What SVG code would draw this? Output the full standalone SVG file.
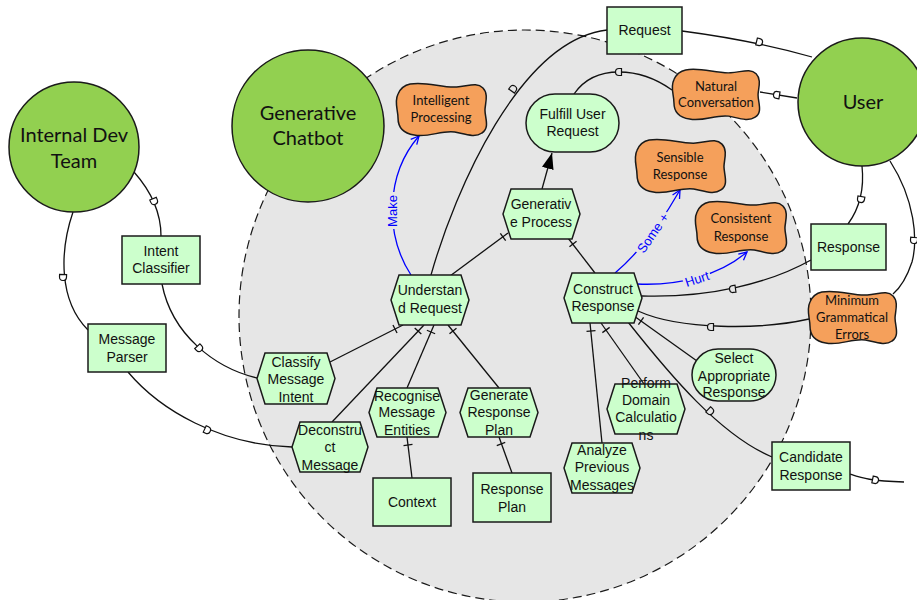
<svg xmlns="http://www.w3.org/2000/svg" xmlns:xlink="http://www.w3.org/1999/xlink" width="917" height="600" viewBox="0 0 917 600">
<style>
.actor{fill:#92D050;stroke:#1a1a1a;stroke-width:1.5}
.res{fill:#CCFFCC;stroke:#1a1a1a;stroke-width:1.5}
.task{fill:#CCFFCC;stroke:#1a1a1a;stroke-width:1.5}
.goal{fill:#CCFFCC;stroke:#1a1a1a;stroke-width:1.5}
.soft{fill:#F5A05B;stroke:#1a1a1a;stroke-width:1.5}
.bound{fill:#E6E6E6;stroke:#1a1a1a;stroke-width:1.2;stroke-dasharray:9 5}
.ln{fill:none;stroke:#111;stroke-width:1.3}
.bl{fill:none;stroke:#0000FF;stroke-width:1.3}
.t{font-family:"Liberation Sans",Arial,sans-serif;font-size:14px;fill:#111;text-anchor:middle}
.big{font-family:Lato,"Open Sans",sans-serif;font-size:20px;fill:#111;text-anchor:middle}
.st{font-family:Lato,"Open Sans",sans-serif;font-size:13px;fill:#111;text-anchor:middle}
.lbl{font-family:"Liberation Sans",Arial,sans-serif;font-size:13px;fill:#0000FF;text-anchor:middle}
.dm{fill:#E6E6E6;stroke:#111;stroke-width:1.2}
.dw{fill:#FFFFFF;stroke:#111;stroke-width:1.2}
.tk{stroke:#111;stroke-width:1.3}
</style>
<defs>
<path id="sg" d="M 14,2 C 30,-1 45,6 60,5 C 72,4 80,0 86,6 C 92,12 88,22 88,28 C 88,36 93,46 85,51 C 78,56 68,52 58,50 C 45,48 32,56 18,53 C 5,51 2,44 2,36 C 2,28 -2,20 2,12 C 5,5 9,3 14,2 Z"/>
<path id="dg" d="M -2.5,-3.5 L 0,-3.5 A 3.5,3.5 0 0 1 0,3.5 L -2.5,3.5 Z"/>
<line id="tick" x1="0" y1="-4.5" x2="0" y2="4.5"/>
<marker id="tri" viewBox="0 0 16 12" refX="16" refY="6" markerWidth="16" markerHeight="12" markerUnits="userSpaceOnUse" orient="auto">
<path d="M 0,0 L 16,6 L 0,12 Z" fill="#000"/>
</marker>
<marker id="opn" viewBox="0 0 10 10" refX="9" refY="5" markerWidth="10" markerHeight="10" markerUnits="userSpaceOnUse" orient="auto">
<path d="M 1,1 L 9,5 L 1,9" fill="none" stroke="#0000FF" stroke-width="1.3"/>
</marker>
</defs>

<rect width="917" height="600" fill="#FFFFFF"/>

<g id="boundary">
<circle class="bound" cx="525" cy="316" r="286"/>
</g>

<g id="connectors">
<path class="ln" d="M 134,172 C 150,190 161,210 161,236"/>
<path class="ln" d="M 73,212 C 60,250 58,300 88,330"/>
<path class="ln" d="M 162,284 C 172,335 215,368 257,378"/>
<path class="ln" d="M 128,372 C 160,410 220,445 292,447"/>
<path class="ln" d="M 431,275 C 455,190 520,40 607,30"/>
<path class="ln" d="M 682,31 C 720,36 770,45 812,57"/>
<path class="ln" d="M 797,98 L 760,92"/>
<path class="ln" d="M 574,94 C 585,78 600,72 619,72 C 640,72 658,80 672,90"/>
<path class="ln" d="M 542,189 L 552,153" marker-end="url(#tri)"/>
<path class="ln" d="M 862,166 C 864,185 862,205 848,224"/>
<path class="ln" d="M 890,161 C 915,200 918,240 912,262 C 906,280 900,288 893,294"/>
<path class="ln" d="M 811,260 C 770,283 710,298 642,296"/>
<path class="ln" d="M 809,319 C 760,330 680,330 638,311"/>
<path class="ln" d="M 628,322 C 670,375 720,435 772,457"/>
<path class="ln" d="M 850,474 C 862,478 870,481 904,482"/>
<line class="ln" x1="450" y1="276" x2="508" y2="233"/>
<line class="ln" x1="595" y1="273" x2="568" y2="238"/>
<line class="ln" x1="403" y1="325" x2="330" y2="362"/>
<line class="ln" x1="424" y1="325" x2="332" y2="422"/>
<line class="ln" x1="434" y1="325" x2="407" y2="388"/>
<line class="ln" x1="448" y1="325" x2="499" y2="388"/>
<line class="ln" x1="407" y1="437" x2="412" y2="478"/>
<line class="ln" x1="499" y1="437" x2="512" y2="473"/>
<line class="ln" x1="634" y1="316" x2="697" y2="361"/>
<line class="ln" x1="601" y1="323" x2="644" y2="384"/>
<line class="ln" x1="590" y1="323" x2="602" y2="443"/>
<path class="bl" d="M 411,275 C 385,235 385,175 419,136" marker-end="url(#opn)"/>
<path class="bl" d="M 615,273 C 640,252 660,225 680,190" marker-end="url(#opn)"/>
<path class="bl" d="M 637,284 C 680,286 720,275 747,252" marker-end="url(#opn)"/>
<rect x="385" y="192" width="14" height="37" fill="#E6E6E6"/>
<text class="lbl" transform="translate(397,211) rotate(-90)">Make</text>
<g transform="translate(653,233) rotate(-55)"><rect x="-25" y="-8" width="50" height="14" fill="#E6E6E6"/><text class="lbl" x="0" y="4.5">Some +</text></g>
<g transform="translate(697,279) rotate(-18)"><rect x="-14" y="-8" width="28" height="14" fill="#E6E6E6"/><text class="lbl" x="0" y="4.5">Hurt</text></g>
<use xlink:href="#dg" class="dw" transform="translate(154,201) rotate(67)"/>
<use xlink:href="#dg" class="dw" transform="translate(199,348) rotate(48)"/>
<use xlink:href="#dg" class="dw" transform="translate(63,277) rotate(92)"/>
<use xlink:href="#dg" class="dw" transform="translate(207,430) rotate(25)"/>
<use xlink:href="#dg" class="dm" transform="translate(513,89) rotate(-55)"/>
<use xlink:href="#dg" class="dw" transform="translate(759,42) rotate(14)"/>
<use xlink:href="#dg" class="dw" transform="translate(777,95) rotate(189)"/>
<use xlink:href="#dg" class="dm" transform="translate(619,72) rotate(180)"/>
<use xlink:href="#dg" class="dw" transform="translate(861,199) rotate(100)"/>
<use xlink:href="#dg" class="dw" transform="translate(914,240) rotate(95)"/>
<use xlink:href="#dg" class="dm" transform="translate(733,289) rotate(172)"/>
<use xlink:href="#dg" class="dm" transform="translate(711,327) rotate(180)"/>
<use xlink:href="#dg" class="dm" transform="translate(710,411) rotate(42)"/>
<use xlink:href="#dg" class="dw" transform="translate(875,480) rotate(12)"/>
<use xlink:href="#tick" class="tk" transform="translate(503,237) rotate(-36)"/>
<use xlink:href="#tick" class="tk" transform="translate(573,244) rotate(-128)"/>
<use xlink:href="#tick" class="tk" transform="translate(395,329) rotate(153)"/>
<use xlink:href="#tick" class="tk" transform="translate(418,331) rotate(133)"/>
<use xlink:href="#tick" class="tk" transform="translate(431,332) rotate(113)"/>
<use xlink:href="#tick" class="tk" transform="translate(453,331) rotate(51)"/>
<use xlink:href="#tick" class="tk" transform="translate(408,445) rotate(83)"/>
<use xlink:href="#tick" class="tk" transform="translate(501,444) rotate(70)"/>
<use xlink:href="#tick" class="tk" transform="translate(641,321) rotate(35)"/>
<use xlink:href="#tick" class="tk" transform="translate(606,330) rotate(54)"/>
<use xlink:href="#tick" class="tk" transform="translate(591,331) rotate(84)"/>
</g>

<g id="internal-dev-team"><circle class="actor" cx="74" cy="147" r="65"/><text class="big" x="74" y="142">Internal Dev</text><text class="big" x="74" y="168">Team</text></g>
<g id="generative-chatbot"><circle class="actor" cx="308" cy="126" r="76"/><text class="big" x="308" y="120">Generative</text><text class="big" x="308" y="145">Chatbot</text></g>
<g id="user"><circle class="actor" cx="862" cy="102" r="64"/><text class="big" x="863" y="109">User</text></g>

<g id="request"><rect class="res" x="607" y="7" width="75" height="47"/><text class="t" x="644.5" y="35">Request</text></g>
<g id="response"><rect class="res" x="811" y="224" width="75" height="46"/><text class="t" x="848.5" y="252">Response</text></g>
<g id="intent-classifier"><rect class="res" x="122" y="236" width="78" height="48"/><text class="t" x="161" y="256">Intent</text><text class="t" x="161" y="273">Classifier</text></g>
<g id="message-parser"><rect class="res" x="88" y="324" width="78" height="48"/><text class="t" x="127" y="344">Message</text><text class="t" x="127" y="362">Parser</text></g>
<g id="context"><rect class="res" x="373" y="478" width="78" height="48"/><text class="t" x="412" y="507">Context</text></g>
<g id="response-plan"><rect class="res" x="473" y="473" width="78" height="49"/><text class="t" x="512" y="494">Response</text><text class="t" x="512" y="512">Plan</text></g>
<g id="candidate-response"><rect class="res" x="772" y="442" width="78" height="48"/><text class="t" x="811" y="462">Candidate</text><text class="t" x="811" y="480">Response</text></g>

<g id="fulfill-user-request"><rect class="goal" x="526" y="94" width="93" height="58" rx="29"/><text class="t" x="572.5" y="119">Fulfill User</text><text class="t" x="572.5" y="136">Request</text></g>
<g id="select-appropriate-response"><rect class="goal" x="692" y="349" width="84" height="52" rx="26"/><text class="t" x="734" y="363">Select</text><text class="t" x="734" y="381">Appropriate</text><text class="t" x="734" y="397">Response</text></g>

<g id="generative-process"><polygon class="task" points="511,189 572,189 580,214 572,239 511,239 503,214"/><text class="t" x="541" y="209">Generativ</text><text class="t" x="541" y="227">e Process</text></g>
<g id="understand-request"><polygon class="task" points="399,275 461,275 469,300 461,325 399,325 391,300"/><text class="t" x="430" y="295">Understan</text><text class="t" x="430" y="313">d Request</text></g>
<g id="construct-response"><polygon class="task" points="572,273 634,273 642,298 634,323 572,323 564,298"/><text class="t" x="603" y="294">Construct</text><text class="t" x="603" y="311">Response</text></g>
<g id="classify-message-intent"><polygon class="task" points="265,353 327,353 335,378.5 327,404 265,404 257,378.5"/><text class="t" x="296" y="367">Classify</text><text class="t" x="296" y="384">Message</text><text class="t" x="296" y="402">Intent</text></g>
<g id="deconstruct-message"><polygon class="task" points="300,422 360,422 368,447 360,472 300,472 292,447"/><text class="t" x="330" y="435">Deconstru</text><text class="t" x="330" y="452">ct</text><text class="t" x="330" y="470">Message</text></g>
<g id="recognise-message-entities"><polygon class="task" points="377,388 438,388 446,412.5 438,437 377,437 369,412.5"/><text class="t" x="407" y="401">Recognise</text><text class="t" x="407" y="417">Message</text><text class="t" x="407" y="435">Entities</text></g>
<g id="generate-response-plan"><polygon class="task" points="468,388 530,388 538,412.5 530,437 468,437 460,412.5"/><text class="t" x="499" y="400">Generate</text><text class="t" x="499" y="417">Response</text><text class="t" x="499" y="435">Plan</text></g>
<g id="perform-domain-calculations"><polygon class="task" points="615,384 677,384 685,409 677,434 615,434 607,409"/><text class="t" x="646" y="388">Perform</text><text class="t" x="646" y="405">Domain</text><text class="t" x="646" y="422">Calculatio</text><text class="t" x="646" y="440">ns</text></g>
<g id="analyze-previous-messages"><polygon class="task" points="572,443 632,443 640,468 632,493 572,493 564,468"/><text class="t" x="602" y="455">Analyze</text><text class="t" x="602" y="472">Previous</text><text class="t" x="602" y="490">Messages</text></g>

<g id="intelligent-processing"><use xlink:href="#sg" class="soft" transform="translate(396,82) scale(1.011,1)"/><text class="st" x="441" y="105">Intelligent</text><text class="st" x="441" y="122">Processing</text></g>
<g id="natural-conversation"><use xlink:href="#sg" class="soft" transform="translate(672,68) scale(0.978,0.963)"/><text class="st" x="716" y="91">Natural</text><text class="st" x="716" y="107">Conversation</text></g>
<g id="sensible-response"><use xlink:href="#sg" class="soft" transform="translate(635,138) scale(1.011,1.019)"/><text class="st" x="680" y="162">Sensible</text><text class="st" x="680" y="179">Response</text></g>
<g id="consistent-response"><use xlink:href="#sg" class="soft" transform="translate(695,200) scale(1.022,1)"/><text class="st" x="741" y="223">Consistent</text><text class="st" x="741" y="241">Response</text></g>
<g id="minimum-grammatical-errors"><use xlink:href="#sg" class="soft" transform="translate(808,290) scale(0.989,1)"/><text class="st" x="852" y="305">Minimum</text><text class="st" x="852" y="322">Grammatical</text><text class="st" x="852" y="339">Errors</text></g>
</svg>
